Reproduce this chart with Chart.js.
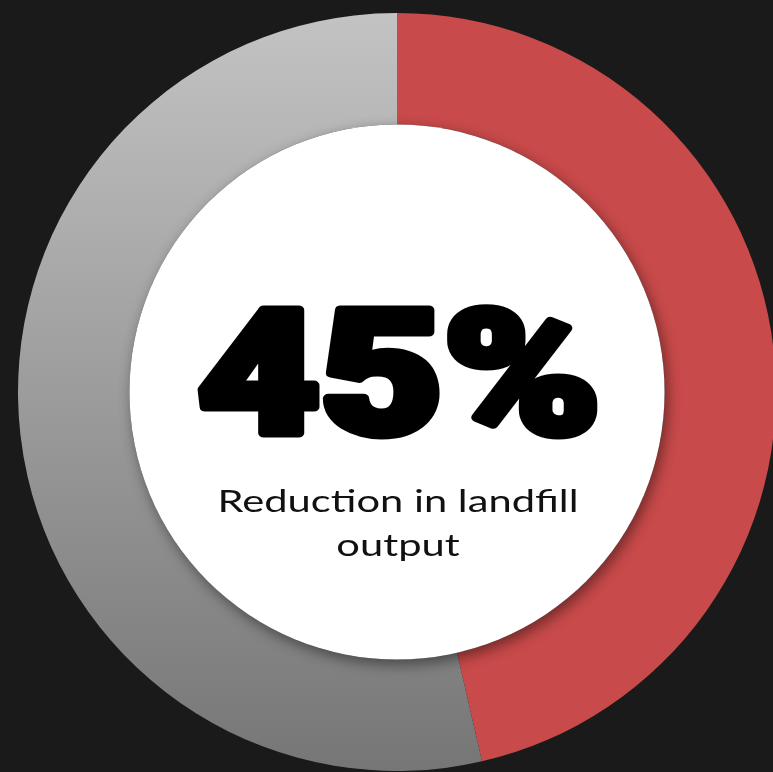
<!DOCTYPE html>
<html>
<head>
<meta charset="utf-8">
<script src="https://cdn.jsdelivr.net/npm/chart.js@4"></script>
<style>
  html, body { margin: 0; padding: 0; background: #1b1a1a; width: 773px; height: 772px; overflow: hidden; }
  #ring { position: absolute; left: 18px; top: 13px; }
</style>
</head>
<body>
<canvas id="ring" width="758" height="758"></canvas>
<script>
// Data
const labels = ['Reduced', 'Remaining'];
const shares = [46.4, 53.6];
const headline = '45%';
const caption = ['Reduction in landfill', 'output'];

const red = '#c94a4a';

// Slice fill: red for the first, vertical grey gradient for the second
function sliceFill(context) {
    if (context.dataIndex === 0) return red;
    const chart = context.chart;
    const area = chart.chartArea;
    if (!area) return '#9c9c9c';
    const g = chart.ctx.createLinearGradient(0, area.top, 0, area.bottom);
    g.addColorStop(0, '#c3c3c3');
    g.addColorStop(0.5, '#9c9c9c');
    g.addColorStop(1, '#767676');
    return g;
}

// White centre disc with shadow, plus the big number and caption
const centrePlugin = {
    id: 'centre',
    afterDatasetsDraw(chart) {
        const arc = chart.getDatasetMeta(0).data[0];
        if (!arc) return;
        const ctx = chart.ctx;
        const cx = arc.x, cy = arc.y, r = arc.innerRadius;

        ctx.save();
        ctx.shadowColor = 'rgba(0,0,0,0.45)';
        ctx.shadowBlur = 14;
        ctx.shadowOffsetX = 3;
        ctx.shadowOffsetY = 5;
        ctx.beginPath();
        ctx.arc(cx, cy, r, 0, Math.PI * 2);
        ctx.fillStyle = '#ffffff';
        ctx.fill();
        ctx.restore();

        // headline number: heavy face, stretched and thickened with a round stroke
        ctx.save();
        ctx.fillStyle = '#000000';
        ctx.strokeStyle = '#000000';
        ctx.lineWidth = 9;
        ctx.lineJoin = 'round';
        ctx.textAlign = 'center';
        ctx.textBaseline = 'alphabetic';
        ctx.font = '900 172px Roboto, "DejaVu Sans", sans-serif';
        const w = ctx.measureText(headline).width;
        const sx = 404 / w;
        ctx.translate(cx + 2, cy + 41);
        ctx.scale(sx, 1);
        ctx.fillText(headline, 0, 0);
        ctx.strokeText(headline, 0, 0);
        ctx.restore();

        // caption
        ctx.save();
        ctx.fillStyle = '#111111';
        ctx.textAlign = 'center';
        ctx.textBaseline = 'alphabetic';
        ctx.font = '400 30px Lato, "Open Sans", sans-serif';
        const cw = ctx.measureText(caption[0]).width;
        const cs = 361 / cw;
        caption.forEach((line, i) => {
            ctx.save();
            ctx.translate(cx + 1, cy + 120 + i * 44);
            ctx.scale(cs, 1);
            ctx.fillText(line, 0, 0);
            ctx.restore();
        });
        ctx.restore();
    }
};

new Chart(document.getElementById('ring'), {
    type: 'doughnut',
    data: {
        labels: labels,
        datasets: [{
            data: shares,
            backgroundColor: sliceFill,
            borderWidth: 0,
            hoverOffset: 0
        }]
    },
    options: {
        responsive: false,
        animation: false,
        devicePixelRatio: 1,
        cutout: '70.6%',
        layout: { padding: 0 },
        plugins: {
            legend: { display: false },
            tooltip: { enabled: false }
        }
    },
    plugins: [centrePlugin]
});
</script>
</body>
</html>
